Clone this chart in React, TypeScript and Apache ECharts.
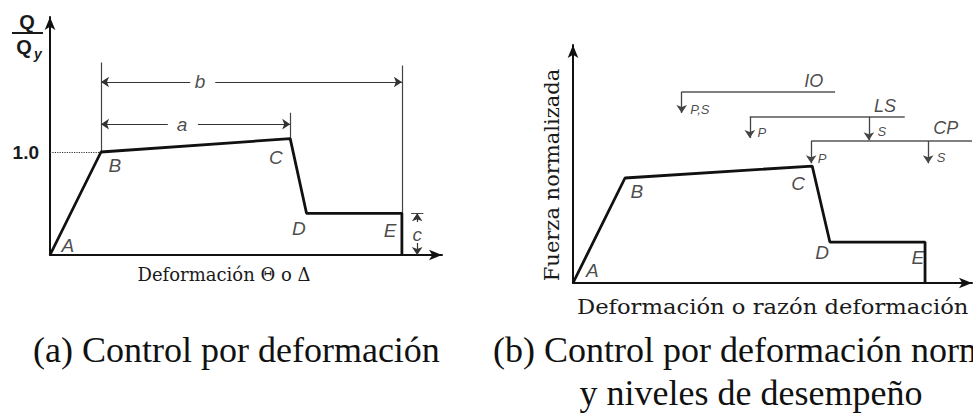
import { useEffect, useRef } from "react";
import * as echarts from "echarts";

type Pt = [number, number];

// ---------- (a) deformation-controlled backbone, Q/Qy vs deformation ----------
const backboneA: Pt[] = [[0, 0], [1, 1], [4.71, 1.13], [5.03, 0.405], [6.9, 0.405], [6.9, 0]];
const pointNamesA = ["A", "B", "C", "D", "E"];
const pointLabelXA = [0.35, 1.27, 4.43, 4.88, 6.67];
const pointLabelYA = [0.09, 0.87, 0.95, 0.26, 0.24];
// dimension a: B -> C, dimension b: B -> E, dimension c: residual strength
const dimAY = 1.27;
const dimBY = 1.68;
const dimCX = 7.2;
const dimALabelX = 2.59;
const dimBLabelX = 2.94;
const dimGapA: Pt = [2.31, 2.9];
const dimGapB: Pt = [2.75, 3.24];
const extTopB = 1.87;
const extTopC = 1.38;
const extTopE = 1.84;
const yieldTick = 1.0;

// ---------- (b) normalised backbone with performance levels ----------
const backboneB: Pt[] = [[0, 0], [1, 1], [4.6, 1.114], [4.94, 0.39], [6.77, 0.39], [6.77, 0]];
const pointNamesB = ["A", "B", "C", "D", "E"];
const pointLabelXB = [0.37, 1.23, 4.33, 4.79, 6.63];
const pointLabelYB = [0.12, 0.87, 0.95, 0.29, 0.24];

const levelNames = ["IO", "LS", "CP"];
const levelY = [1.822, 1.584, 1.352];
const levelStart = [2.09, 3.4, 4.58];
const levelEnd = [5.04, 6.38, 7.673];
const levelNameX = [4.63, 6.0, 7.17];
const levelNameY = [1.92, 1.69, 1.48];
// arrows hanging from each level: level index, x, arrow tip y, tag and tag position
const levelArrowLevel = [0, 1, 1, 2, 2];
const levelArrowX = [2.09, 3.4, 5.69, 4.58, 6.83];
const levelArrowTip = [1.62, 1.38, 1.36, 1.14, 1.14];
const levelArrowTag = ["P,S", "P", "S", "P", "S"];
const levelArrowTagX = [2.44, 3.63, 5.94, 4.79, 7.08];
const levelArrowTagY = [1.65, 1.43, 1.44, 1.19, 1.2];

const SANS = "'Liberation Sans', Arial, Helvetica, sans-serif";
const SERIF_D = "'DejaVu Serif', serif";
const SERIF_T = "'Liberation Serif', 'Times New Roman', serif";
const INK = "#111";

function hiddenAxis(gridIndex: number, min: number, max: number) {
  return {
    type: "value" as const,
    gridIndex,
    min,
    max,
    axisLine: {
      show: true,
      symbol: ["none", "arrow"],
      symbolSize: [8, 13],
      lineStyle: { color: INK, width: 2 },
    },
    axisTick: { show: false },
    axisLabel: { show: false },
    splitLine: { show: false },
  };
}

function segs(list: Pt[][]) {
  return list.map((coords) => ({ coords }));
}

function segmentSeries(idx: number, list: Pt[][], color: string, width: number, arrow: boolean, type = "solid") {
  return {
    type: "lines",
    coordinateSystem: "cartesian2d",
    xAxisIndex: idx,
    yAxisIndex: idx,
    silent: true,
    symbol: arrow ? ["none", "arrow"] : ["none", "none"],
    symbolSize: [6, 8],
    lineStyle: { color, width, type, opacity: 1, curveness: 0 },
    data: segs(list),
  };
}

function labelSeries(idx: number, names: string[], xs: number[], ys: number[], fontSize: number) {
  return {
    type: "scatter",
    xAxisIndex: idx,
    yAxisIndex: idx,
    silent: true,
    symbolSize: 1,
    itemStyle: { color: "rgba(0,0,0,0)" },
    label: {
      show: true,
      position: "inside",
      formatter: "{b}",
      fontFamily: SANS,
      fontStyle: "italic",
      fontSize,
      color: "#1a1a1a",
    },
    data: names.map((name, i) => ({ name, value: [xs[i], ys[i]] })),
  };
}

export default function App() {
  const ref = useRef<HTMLDivElement>(null);

  useEffect(() => {
    if (!ref.current) return;
    const chart = echarts.init(ref.current, undefined, { renderer: "svg" });

    const xMaxA = 392 / 51;
    const yMaxA = 238 / 103;
    const xMaxB = 399 / 52;
    const yMaxB = 238 / 105;

    const [bx, by] = backboneA[1];
    const [cx, cy] = backboneA[2];
    const [ex, ey] = backboneA[4];

    const levelLines: Pt[][] = levelNames.map((_, i) => [
      [levelStart[i], levelY[i]],
      [levelEnd[i], levelY[i]],
    ]);
    const levelArrows: Pt[][] = levelArrowX.map((x, i) => [
      [x, levelY[levelArrowLevel[i]]],
      [x, levelArrowTip[i]],
    ]);

    const yAxisA: any = hiddenAxis(0, 0, yMaxA);
    yAxisA.interval = 1;
    yAxisA.axisLabel = {
      show: true,
      showMaxLabel: false,
      margin: 11,
      formatter: (v: number) => (v === yieldTick ? yieldTick.toFixed(1) : ""),
      fontFamily: SANS,
      fontWeight: "bold",
      fontSize: 19,
      color: "#1a1a1a",
    };

    chart.setOption({
      animation: false,
      backgroundColor: "#ffffff",
      grid: [
        { left: 50, top: 17, width: 392, height: 238 },
        { left: 573, top: 45, width: 399, height: 238 },
      ],
      xAxis: [hiddenAxis(0, 0, xMaxA), hiddenAxis(1, 0, xMaxB)],
      yAxis: [yAxisA, hiddenAxis(1, 0, yMaxB)],
      series: [
        // ----- panel (a) -----
        segmentSeries(0, [[[0, yieldTick], [bx, by]]], "#333", 1.2, false, "dotted"),
        segmentSeries(0, [
          [[bx, by], [bx, extTopB]],
          [[cx, cy], [cx, extTopC]],
          [[ex, ey], [ex, extTopE]],
          [[dimCX - 0.12, ey], [dimCX + 0.12, ey]],
        ], "#444", 1.2, false),
        segmentSeries(0, [
          [[dimGapA[0], dimAY], [bx, dimAY]],
          [[dimGapA[1], dimAY], [cx, dimAY]],
          [[dimGapB[0], dimBY], [bx, dimBY]],
          [[dimGapB[1], dimBY], [ex, dimBY]],
          [[dimCX, 0.32], [dimCX, ey]],
          [[dimCX, 0.117], [dimCX, 0]],
        ], "#333", 1.2, true),
        {
          type: "line",
          xAxisIndex: 0,
          yAxisIndex: 0,
          silent: true,
          symbol: "none",
          lineStyle: { color: INK, width: 2.8 },
          data: backboneA,
        },
        labelSeries(0, pointNamesA, pointLabelXA, pointLabelYA, 19),
        labelSeries(0, ["a", "b", "c"], [dimALabelX, dimBLabelX, dimCX], [dimAY, dimBY, 0.2], 19),
        // ----- panel (b) -----
        segmentSeries(1, levelLines, "#555", 1.5, false),
        segmentSeries(1, levelArrows, "#444", 1.3, true),
        {
          type: "line",
          xAxisIndex: 1,
          yAxisIndex: 1,
          silent: true,
          symbol: "none",
          lineStyle: { color: INK, width: 2.8 },
          data: backboneB,
        },
        labelSeries(1, pointNamesB, pointLabelXB, pointLabelYB, 19),
        labelSeries(1, levelNames, levelNameX, levelNameY, 18),
        labelSeries(1, levelArrowTag, levelArrowTagX, levelArrowTagY, 13),
      ],
      graphic: [
        // Q / Qy ordinate label
        { type: "text", x: 27, y: 22, style: { text: "Q", fontFamily: SANS, fontWeight: "bold", fontSize: 20, fill: "#1a1a1a", textAlign: "center", textVerticalAlign: "middle" } },
        { type: "line", shape: { x1: 12, y1: 33, x2: 43, y2: 33 }, style: { stroke: "#1a1a1a", lineWidth: 2 } },
        { type: "text", x: 24, y: 47, style: { text: "Q", fontFamily: SANS, fontWeight: "bold", fontSize: 20, fill: "#1a1a1a", textAlign: "center", textVerticalAlign: "middle" } },
        { type: "text", x: 38, y: 54, style: { text: "y", fontFamily: SANS, fontWeight: "bold", fontStyle: "italic", fontSize: 14, fill: "#1a1a1a", textAlign: "center", textVerticalAlign: "middle" } },
        // axis titles
        { type: "text", x: 224, y: 274, style: { text: "Deformación Θ o Δ", fontFamily: SERIF_D, fontSize: 18, fill: "#1a1a1a", textAlign: "center", textVerticalAlign: "middle" } },
        { type: "text", x: 577, y: 307, scaleX: 1.08, style: { text: "Deformación o razón deformación", fontFamily: SERIF_D, fontSize: 21, fill: "#1a1a1a", textAlign: "left", textVerticalAlign: "middle" } },
        { type: "text", x: 552, y: 175, rotation: Math.PI / 2, style: { text: "Fuerza normalizada", fontFamily: SERIF_D, fontSize: 21, fill: "#1a1a1a", textAlign: "center", textVerticalAlign: "middle" } },
        // panel captions
        { type: "text", x: 33, y: 350, style: { text: "(a) Control por deformación", fontFamily: SERIF_T, fontSize: 36, fill: "#111", textAlign: "left", textVerticalAlign: "middle" } },
        { type: "text", x: 493, y: 350, style: { text: "(b) Control por deformación normalizada", fontFamily: SERIF_T, fontSize: 36, fill: "#111", textAlign: "left", textVerticalAlign: "middle" } },
        { type: "text", x: 751, y: 393, style: { text: "y niveles de desempeño", fontFamily: SERIF_T, fontSize: 36, fill: "#111", textAlign: "center", textVerticalAlign: "middle" } },
      ],
    });

    return () => chart.dispose();
  }, []);

  return (
    <div
      ref={ref}
      style={{ position: "fixed", left: 0, top: 0, width: 973, height: 415, background: "#fff" }}
    />
  );
}
